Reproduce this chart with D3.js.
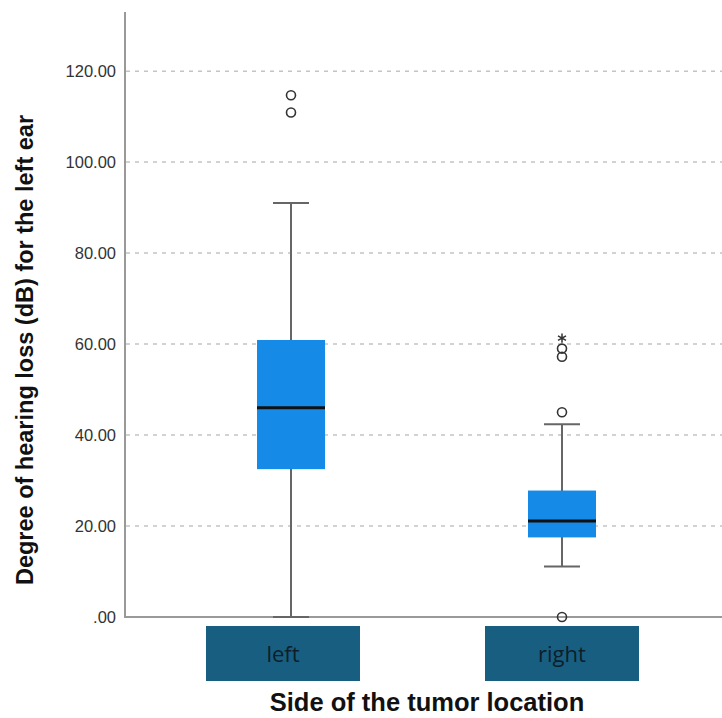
<!DOCTYPE html>
<html>
<head>
<meta charset="utf-8">
<script src="https://cdn.jsdelivr.net/npm/d3@7"></script>
<style>
  body { margin: 0; background: #fff; }
  svg { display: block; }
</style>
</head>
<body>
<div id="chart"></div>
<script>
var categories = ["left", "right"];
var q1 = [32.5, 17.5];
var medians = [46.0, 21.1];
var q3 = [60.9, 27.8];
var whiskerLow = [0, 11.1];
var whiskerHigh = [91.0, 42.4];
var outliers = [[110.9, 114.7], [0, 45.0, 57.2, 59.0]];
var extremes = [[], [61.3]];
var yTicks = [0, 20, 40, 60, 80, 100, 120];

var width = 722, height = 718;

var svg = d3.select("#chart")
    .append("svg")
    .attr("width", width)
    .attr("height", height);

var y = d3.scaleLinear()
    .domain([0, 133])
    .range([617, 12]);

var x = d3.scalePoint()
    .domain(categories)
    .range([291, 562]);

// the category label tiles sit slightly off the box centres
var xLabel = d3.scalePoint()
    .domain(categories)
    .range([283, 562]);

var boxW = 68, capW = 36;

// gridlines
svg.selectAll(".grid")
    .data(yTicks.filter(function(d) { return d > 0; }))
    .enter()
    .append("line")
    .attr("x1", 126)
    .attr("x2", width)
    .attr("y1", function(d) { return y(d); })
    .attr("y2", function(d) { return y(d); })
    .attr("stroke", "#c4c4c4")
    .attr("stroke-width", 1.5)
    .attr("stroke-dasharray", "4,5");

// y axis
var yAxis = d3.axisLeft(y)
    .tickValues(yTicks)
    .tickSize(0)
    .tickPadding(9)
    .tickFormat(function(d) { return d === 0 ? ".00" : d3.format(".2f")(d); });

var gy = svg.append("g")
    .attr("transform", "translate(125,0)")
    .call(yAxis);
gy.select(".domain").remove();
gy.selectAll("text")
    .attr("font-family", "Liberation Sans, Arial, sans-serif")
    .attr("font-size", 16.5)
    .attr("fill", "#333");

svg.append("line")
    .attr("x1", 125).attr("x2", 125)
    .attr("y1", 12).attr("y2", y(0))
    .attr("stroke", "#999").attr("stroke-width", 2);
svg.append("line")
    .attr("x1", 124).attr("x2", width)
    .attr("y1", y(0)).attr("y2", y(0))
    .attr("stroke", "#999").attr("stroke-width", 2);

// boxes
var box = svg.selectAll(".box")
    .data(categories)
    .enter()
    .append("g")
    .attr("class", "box");

box.append("line")
    .attr("x1", function(d) { return x(d); })
    .attr("x2", function(d) { return x(d); })
    .attr("y1", function(d, i) { return y(whiskerHigh[i]); })
    .attr("y2", function(d, i) { return y(whiskerLow[i]); })
    .attr("stroke", "#666").attr("stroke-width", 2);

box.append("line")
    .attr("x1", function(d) { return x(d) - capW / 2; })
    .attr("x2", function(d) { return x(d) + capW / 2; })
    .attr("y1", function(d, i) { return y(whiskerHigh[i]); })
    .attr("y2", function(d, i) { return y(whiskerHigh[i]); })
    .attr("stroke", "#666").attr("stroke-width", 2);

box.append("line")
    .attr("x1", function(d) { return x(d) - capW / 2; })
    .attr("x2", function(d) { return x(d) + capW / 2; })
    .attr("y1", function(d, i) { return y(whiskerLow[i]); })
    .attr("y2", function(d, i) { return y(whiskerLow[i]); })
    .attr("stroke", "#666").attr("stroke-width", 2);

box.append("rect")
    .attr("x", function(d) { return x(d) - boxW / 2; })
    .attr("y", function(d, i) { return y(q3[i]); })
    .attr("width", boxW)
    .attr("height", function(d, i) { return y(q1[i]) - y(q3[i]); })
    .attr("fill", "#158ae6");

box.append("line")
    .attr("x1", function(d) { return x(d) - boxW / 2; })
    .attr("x2", function(d) { return x(d) + boxW / 2; })
    .attr("y1", function(d, i) { return y(medians[i]); })
    .attr("y2", function(d, i) { return y(medians[i]); })
    .attr("stroke", "#111").attr("stroke-width", 3);

// outliers
categories.forEach(function(c, i) {
    svg.selectAll(".out" + i)
        .data(outliers[i])
        .enter()
        .append("circle")
        .attr("cx", x(c))
        .attr("cy", function(d) { return y(d); })
        .attr("r", 4.5)
        .attr("fill", "none")
        .attr("stroke", "#333")
        .attr("stroke-width", 1.6);
    svg.selectAll(".ext" + i)
        .data(extremes[i])
        .enter()
        .append("path")
        .attr("transform", function(d) { return "translate(" + x(c) + "," + y(d) + ")"; })
        .attr("d", d3.symbol().type(d3.symbolAsterisk).size(60))
        .attr("fill", "none")
        .attr("stroke", "#333")
        .attr("stroke-width", 1.5);
});

// category label tiles
var lab = svg.selectAll(".lab")
    .data(categories)
    .enter()
    .append("g");

lab.append("rect")
    .attr("x", function(d) { return xLabel(d) - 77; })
    .attr("y", 626)
    .attr("width", 154)
    .attr("height", 55)
    .attr("fill", "#185e80");

lab.append("text")
    .attr("x", function(d) { return xLabel(d); })
    .attr("y", 662)
    .attr("text-anchor", "middle")
    .attr("font-family", "Open Sans, sans-serif")
    .attr("font-size", 22)
    .attr("fill", "#0d1f2a")
    .text(function(d) { return d; });

// axis titles
svg.append("text")
    .attr("x", 427)
    .attr("y", 711)
    .attr("text-anchor", "middle")
    .attr("font-family", "Liberation Sans, Arial, sans-serif")
    .attr("font-weight", "bold")
    .attr("font-size", 25.5)
    .attr("fill", "#111")
    .text("Side of the tumor location");

svg.append("text")
    .attr("transform", "translate(33,350) rotate(-90)")
    .attr("text-anchor", "middle")
    .attr("font-family", "Liberation Sans, Arial, sans-serif")
    .attr("font-weight", "bold")
    .attr("font-size", 23.5)
    .attr("fill", "#111")
    .text("Degree of hearing loss (dB) for the left ear");
</script>
</body>
</html>
